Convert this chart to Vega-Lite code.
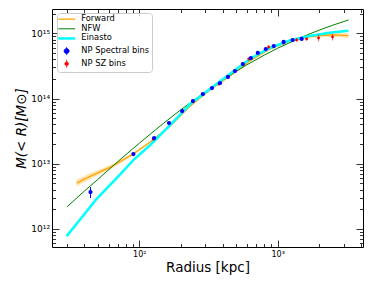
{
  "$schema": "https://vega.github.io/schema/vega-lite/v6.json",
  "width": 311,
  "height": 238,
  "autosize": "none",
  "padding": {"left": 52, "top": 9, "right": 11, "bottom": 41},
  "background": "white",
  "config": {
    "view": {"stroke": "black", "strokeWidth": 1},
    "font": "DejaVu Sans",
    "axis": {"labelFont": "DejaVu Sans", "titleFont": "DejaVu Sans", "labelColor": "black", "titleColor": "black", "tickColor": "black", "tickWidth": 0.8, "grid": false, "domain": false, "titleFontWeight": "normal", "labelOverlap": false, "labelFlush": false}
  },
  "datasets": {
    "curves": [
      {"series": "Forward", "r": 35.2, "M": 5.06e12, "lo": 4.47e12, "hi": 5.72e12},
      {"series": "Forward", "r": 44.4, "M": 6.47e12, "lo": 5.82e12, "hi": 7.19e12},
      {"series": "Forward", "r": 61.9, "M": 8.89e12, "lo": 8.22e12, "hi": 9.61e12},
      {"series": "Forward", "r": 90.5, "M": 1.41e13, "lo": 1.34e13, "hi": 1.48e13},
      {"series": "Forward", "r": 120, "M": 2.15e13, "lo": 2.08e13, "hi": 2.23e13},
      {"series": "Forward", "r": 167, "M": 3.78e13, "lo": 3.67e13, "hi": 3.89e13},
      {"series": "Forward", "r": 233, "M": 7.67e13, "lo": 7.45e13, "hi": 7.89e13},
      {"series": "Forward", "r": 324, "M": 1.35e14, "lo": 1.31e14, "hi": 1.39e14},
      {"series": "Forward", "r": 451, "M": 2.21e14, "lo": 2.15e14, "hi": 2.27e14},
      {"series": "Forward", "r": 629, "M": 3.76e14, "lo": 3.65e14, "hi": 3.87e14},
      {"series": "Forward", "r": 876, "M": 5.74e14, "lo": 5.54e14, "hi": 5.95e14},
      {"series": "Forward", "r": 1220, "M": 7.62e14, "lo": 7.31e14, "hi": 7.95e14},
      {"series": "Forward", "r": 1699, "M": 8.87e14, "lo": 8.41e14, "hi": 9.35e14},
      {"series": "Forward", "r": 2004, "M": 9.22e14, "lo": 8.66e14, "hi": 9.82e14},
      {"series": "Forward", "r": 2366, "M": 9.42e14, "lo": 8.84e14, "hi": 1.0e15},
      {"series": "Forward", "r": 2800, "M": 9.38e14, "lo": 8.72e14, "hi": 1.008e15},
      {"series": "Forward", "r": 3243, "M": 9.19e14, "lo": 8.5e14, "hi": 9.93e14},
      {"series": "NFW", "r": 30, "M": 2.183e12},
      {"series": "NFW", "r": 40, "M": 3.794e12},
      {"series": "NFW", "r": 50, "M": 5.725e12},
      {"series": "NFW", "r": 70, "M": 1.082e13},
      {"series": "NFW", "r": 100, "M": 2.067e13},
      {"series": "NFW", "r": 150, "M": 4.189e13},
      {"series": "NFW", "r": 200, "M": 6.755e13},
      {"series": "NFW", "r": 300, "M": 1.272e14},
      {"series": "NFW", "r": 400, "M": 1.929e14},
      {"series": "NFW", "r": 600, "M": 3.295e14},
      {"series": "NFW", "r": 800, "M": 4.637e14},
      {"series": "NFW", "r": 1000, "M": 5.913e14},
      {"series": "NFW", "r": 1500, "M": 8.772e14},
      {"series": "NFW", "r": 2000, "M": 1.121e15},
      {"series": "NFW", "r": 2500, "M": 1.332e15},
      {"series": "NFW", "r": 3250, "M": 1.601e15},
      {"series": "Einasto", "r": 29.85, "M": 7.78e11},
      {"series": "Einasto", "r": 37.6, "M": 1.42e12},
      {"series": "Einasto", "r": 48.3, "M": 2.77e12},
      {"series": "Einasto", "r": 73.0, "M": 6.95e12},
      {"series": "Einasto", "r": 90.5, "M": 1.14e13},
      {"series": "Einasto", "r": 120, "M": 1.94e13},
      {"series": "Einasto", "r": 167, "M": 3.91e13},
      {"series": "Einasto", "r": 233, "M": 8.24e13},
      {"series": "Einasto", "r": 324, "M": 1.40e14},
      {"series": "Einasto", "r": 451, "M": 2.38e14},
      {"series": "Einasto", "r": 629, "M": 4.04e14},
      {"series": "Einasto", "r": 876, "M": 5.96e14},
      {"series": "Einasto", "r": 1220, "M": 7.75e14},
      {"series": "Einasto", "r": 1699, "M": 9.1e14},
      {"series": "Einasto", "r": 2366, "M": 1.02e15},
      {"series": "Einasto", "r": 3243, "M": 1.095e15}
    ],
    "points": [
      {"series": "NP Spectral bins", "r": 44.4, "M": 3.68e12, "lo": 2.98e12, "hi": 4.39e12},
      {"series": "NP Spectral bins", "r": 90.6, "M": 1.41e13, "lo": 1.36e13, "hi": 1.47e13},
      {"series": "NP Spectral bins", "r": 128, "M": 2.48e13, "lo": 2.39e13, "hi": 2.57e13},
      {"series": "NP Spectral bins", "r": 164, "M": 4.21e13, "lo": 4.06e13, "hi": 4.36e13},
      {"series": "NP Spectral bins", "r": 204, "M": 6.43e13, "lo": 6.2e13, "hi": 6.66e13},
      {"series": "NP Spectral bins", "r": 244, "M": 9.16e13, "lo": 8.84e13, "hi": 9.49e13},
      {"series": "NP Spectral bins", "r": 288, "M": 1.17e14, "lo": 1.13e14, "hi": 1.21e14},
      {"series": "NP Spectral bins", "r": 335, "M": 1.45e14, "lo": 1.40e14, "hi": 1.50e14},
      {"series": "NP Spectral bins", "r": 383, "M": 1.73e14, "lo": 1.67e14, "hi": 1.79e14},
      {"series": "NP Spectral bins", "r": 437, "M": 2.14e14, "lo": 2.07e14, "hi": 2.22e14},
      {"series": "NP Spectral bins", "r": 491, "M": 2.64e14, "lo": 2.55e14, "hi": 2.73e14},
      {"series": "NP Spectral bins", "r": 560, "M": 3.38e14, "lo": 3.26e14, "hi": 3.5e14},
      {"series": "NP Spectral bins", "r": 640, "M": 4.18e14, "lo": 4.03e14, "hi": 4.33e14},
      {"series": "NP Spectral bins", "r": 718, "M": 4.99e14, "lo": 4.82e14, "hi": 5.17e14},
      {"series": "NP Spectral bins", "r": 820, "M": 5.74e14, "lo": 5.54e14, "hi": 5.95e14},
      {"series": "NP Spectral bins", "r": 936, "M": 6.38e14, "lo": 6.16e14, "hi": 6.61e14},
      {"series": "NP Spectral bins", "r": 1104, "M": 7.36e14, "lo": 7.1e14, "hi": 7.62e14},
      {"series": "NP Spectral bins", "r": 1282, "M": 7.89e14, "lo": 7.62e14, "hi": 8.17e14},
      {"series": "NP Spectral bins", "r": 1489, "M": 8.18e14, "lo": 7.9e14, "hi": 8.47e14},
      {"series": "NP SZ bins", "r": 126, "M": 2.39e13, "lo": 2.27e13, "hi": 2.52e13},
      {"series": "NP SZ bins", "r": 377, "M": 1.67e14, "lo": 1.58e14, "hi": 1.76e14},
      {"series": "NP SZ bins", "r": 618, "M": 4.04e14, "lo": 3.83e14, "hi": 4.26e14},
      {"series": "NP SZ bins", "r": 861, "M": 6.17e14, "lo": 5.85e14, "hi": 6.5e14},
      {"series": "NP SZ bins", "r": 1104, "M": 7.10e14, "lo": 6.74e14, "hi": 7.48e14},
      {"series": "NP SZ bins", "r": 1371, "M": 7.89e14, "lo": 7.49e14, "hi": 8.32e14},
      {"series": "NP SZ bins", "r": 1618, "M": 8.18e14, "lo": 7.76e14, "hi": 8.62e14},
      {"series": "NP SZ bins", "r": 1974, "M": 8.47e14, "lo": 7.48e14, "hi": 9.59e14},
      {"series": "NP SZ bins", "r": 2489, "M": 8.77e14, "lo": 7.76e14, "hi": 9.93e14}
    ]
  },
  "layer": [
    {
      "data": {"name": "curves"},
      "transform": [{"filter": "datum.series == 'Forward'"}],
      "mark": {"type": "area", "color": "#FFA500", "opacity": 0.3, "clip": true},
      "encoding": {
        "x": {"field": "r", "type": "quantitative", "scale": {"type": "log", "domain": [23.4, 4133], "nice": false},
          "axis": {"orient": "bottom", "values": [100, 1000],
            "labelExpr": "datum.value == 100 ? '10²' : '10³'",
            "tickSize": -7, "labelPadding": 10, "labelFontSize": 8,
            "title": "Radius [kpc]", "titleFontSize": 13.5, "titleY": 24, "titleBaseline": "alphabetic"}},
        "y": {"field": "lo", "type": "quantitative", "scale": {"type": "log", "domain": [5.296e11, 2.358e15], "nice": false},
          "axis": {"orient": "left", "values": [1e12, 1e13, 1e14, 1e15],
            "labelExpr": "datum.value == 1e12 ? '10¹²' : datum.value == 1e13 ? '10¹³' : datum.value == 1e14 ? '10¹⁴' : '10¹⁵'",
            "tickSize": -7, "labelPadding": 9.5, "labelFontSize": 9,
            "title": "M(< R)[M⊙]", "titleFontSize": 13.5, "titleFontStyle": "italic", "titleX": -27, "titleBaseline": "alphabetic"}},
        "y2": {"field": "hi"}
      }
    },
    {
      "data": {"name": "curves"},
      "transform": [{"filter": "datum.series == 'Forward'"}],
      "mark": {"type": "line", "strokeWidth": 1.3, "clip": true},
      "encoding": {
        "x": {"field": "r", "type": "quantitative", "scale": {"type": "log", "domain": [23.4, 4133], "nice": false},
          "axis": {"orient": "bottom", "values": [30, 40, 50, 60, 70, 80, 90, 200, 300, 400, 500, 600, 700, 800, 900, 2000, 3000, 4000],
            "labels": false, "title": null, "tickSize": -3.5}},
        "y": {"field": "M", "type": "quantitative", "scale": {"type": "log", "domain": [5.296e11, 2.358e15], "nice": false},
          "axis": {"orient": "left", "values": [6e11, 7e11, 8e11, 9e11, 2e12, 3e12, 4e12, 5e12, 6e12, 7e12, 8e12, 9e12, 2e13, 3e13, 4e13, 5e13, 6e13, 7e13, 8e13, 9e13, 2e14, 3e14, 4e14, 5e14, 6e14, 7e14, 8e14, 9e14, 2e15],
            "labels": false, "title": null, "tickSize": -3.5}},
        "color": {"field": "series", "type": "nominal",
          "scale": {"domain": ["Forward", "NFW", "Einasto", "NP Spectral bins", "NP SZ bins"], "range": ["#FFA500", "#008000", "#00FFFF", "#0000FF", "#FF0000"]},
          "legend": {"orient": "none", "legendX": 5, "legendY": 4, "title": null, "fillColor": "rgba(255,255,255,0.8)", "strokeColor": "#cccccc", "cornerRadius": 3, "padding": 2, "rowPadding": 0.65, "symbolSize": 144, "labelFontSize": 8.3, "labelOffset": 14, "labelColor": "black", "labelFont": "DejaVu Sans", "labelLimit": 0,
            "encode": {"symbols": {"update": {
              "shape": {"signal": "datum.value == 'NP Spectral bins' ? 'M0.16,0A0.42,0.42 0 1,0 1,0A0.42,0.42 0 1,0 0.16,0Z M0.58,-0.67L0.58,0.67' : datum.value == 'NP SZ bins' ? 'M0.28,0A0.3,0.3 0 1,0 0.88,0A0.3,0.3 0 1,0 0.28,0Z M0.58,-0.67L0.58,0.67' : 'M-0.83,0L2,0'"},
              "fill": {"signal": "indexof(['NP Spectral bins', 'NP SZ bins'], datum.value) >= 0 ? scale('color', datum.value) : 'transparent'"},
              "stroke": {"signal": "scale('color', datum.value)"},
              "strokeWidth": {"signal": "datum.value == 'Einasto' ? 2.5 : datum.value == 'Forward' ? 1.3 : datum.value == 'NFW' ? 1 : 0.8"},
              "opacity": {"value": 1},
              "fillOpacity": {"value": 1},
              "strokeOpacity": {"value": 1},
              "size": {"value": 144}
            }}}}
        }
      }
    },
    {
      "data": {"name": "curves"},
      "transform": [{"filter": "datum.series == 'NFW'"}],
      "mark": {"type": "line", "strokeWidth": 1, "clip": true},
      "encoding": {
        "x": {"field": "r", "type": "quantitative", "scale": {"type": "log", "domain": [23.4, 4133], "nice": false},
          "axis": {"orient": "top", "values": [100, 1000], "labels": false, "title": null, "tickSize": -7}},
        "y": {"field": "M", "type": "quantitative", "scale": {"type": "log", "domain": [5.296e11, 2.358e15], "nice": false},
          "axis": {"orient": "right", "values": [1e12, 1e13, 1e14, 1e15], "labels": false, "title": null, "tickSize": -7}},
        "color": {"field": "series", "type": "nominal"}
      }
    },
    {
      "data": {"name": "curves"},
      "transform": [{"filter": "datum.series == 'Einasto'"}],
      "mark": {"type": "line", "strokeWidth": 2.5, "clip": true},
      "encoding": {
        "x": {"field": "r", "type": "quantitative", "scale": {"type": "log", "domain": [23.4, 4133], "nice": false},
          "axis": {"orient": "top", "values": [30, 40, 50, 60, 70, 80, 90, 200, 300, 400, 500, 600, 700, 800, 900, 2000, 3000, 4000],
            "labels": false, "title": null, "tickSize": -3.5}},
        "y": {"field": "M", "type": "quantitative", "scale": {"type": "log", "domain": [5.296e11, 2.358e15], "nice": false},
          "axis": {"orient": "right", "values": [6e11, 7e11, 8e11, 9e11, 2e12, 3e12, 4e12, 5e12, 6e12, 7e12, 8e12, 9e12, 2e13, 3e13, 4e13, 5e13, 6e13, 7e13, 8e13, 9e13, 2e14, 3e14, 4e14, 5e14, 6e14, 7e14, 8e14, 9e14, 2e15],
            "labels": false, "title": null, "tickSize": -3.5}},
        "color": {"field": "series", "type": "nominal"}
      }
    },
    {
      "data": {"name": "points"},
      "transform": [{"filter": "datum.series == 'NP SZ bins'"}],
      "mark": {"type": "rule", "color": "#FF0000", "strokeWidth": 1, "opacity": 0.6},
      "encoding": {
        "x": {"field": "r", "type": "quantitative", "scale": {"type": "log", "domain": [23.4, 4133], "nice": false}, "axis": null},
        "y": {"field": "lo", "type": "quantitative", "scale": {"type": "log", "domain": [5.296e11, 2.358e15], "nice": false}, "axis": null},
        "y2": {"field": "hi"}
      }
    },
    {
      "data": {"name": "points"},
      "transform": [{"filter": "datum.series == 'NP SZ bins'"}],
      "mark": {"type": "point", "filled": true, "size": 8, "opacity": 1, "shape": "circle"},
      "encoding": {
        "x": {"field": "r", "type": "quantitative", "scale": {"type": "log", "domain": [23.4, 4133], "nice": false}, "axis": null},
        "y": {"field": "M", "type": "quantitative", "scale": {"type": "log", "domain": [5.296e11, 2.358e15], "nice": false}, "axis": null},
        "color": {"field": "series", "type": "nominal"}
      }
    },
    {
      "data": {"name": "points"},
      "transform": [{"filter": "datum.series == 'NP Spectral bins'"}],
      "mark": {"type": "rule", "color": "#0000FF", "strokeWidth": 1},
      "encoding": {
        "x": {"field": "r", "type": "quantitative", "scale": {"type": "log", "domain": [23.4, 4133], "nice": false}, "axis": null},
        "y": {"field": "lo", "type": "quantitative", "scale": {"type": "log", "domain": [5.296e11, 2.358e15], "nice": false}, "axis": null},
        "y2": {"field": "hi"}
      }
    },
    {
      "data": {"name": "points"},
      "transform": [{"filter": "datum.series == 'NP Spectral bins'"}],
      "mark": {"type": "point", "filled": true, "size": 18, "opacity": 1, "shape": "circle"},
      "encoding": {
        "x": {"field": "r", "type": "quantitative", "scale": {"type": "log", "domain": [23.4, 4133], "nice": false}, "axis": null},
        "y": {"field": "M", "type": "quantitative", "scale": {"type": "log", "domain": [5.296e11, 2.358e15], "nice": false}, "axis": null},
        "color": {"field": "series", "type": "nominal"}
      }
    }
  ],
  "resolve": {"axis": {"x": "independent", "y": "independent"}}
}
